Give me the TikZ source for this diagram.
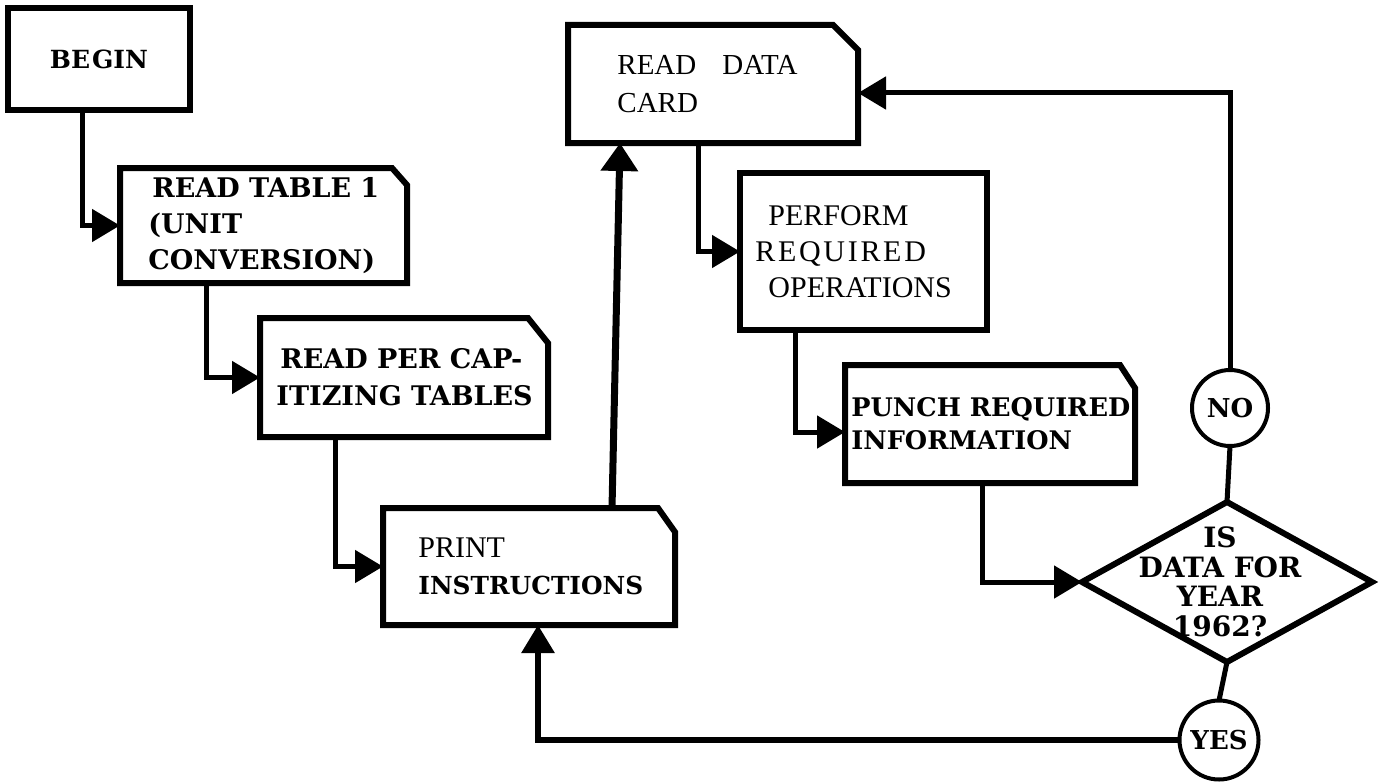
\documentclass[tikz,border=0pt]{standalone}
\usepackage{fontspec}
\newfontfamily\tnr{Liberation Serif}
\newfontfamily\tnrwide{Liberation Serif}[LetterSpace=9]
\newfontfamily\bff{DejaVu Serif}
\usetikzlibrary{arrows.meta,shapes.geometric}
\newcommand\chambox[3]{\draw[outline] (#1.south west) -- (#1.north west) -- ([xshift=-#2]#1.north east) -- ([yshift=-#3]#1.north east) -- (#1.south east) -- cycle;}
\begin{document}
\begin{tikzpicture}[x=0.5pt,y=-0.5pt,
  boxnode/.style={draw=none,anchor=north west,inner sep=0pt,outer sep=0pt},
  outline/.style={line width=3pt,line join=miter},
  conn/.style={line width=2.5pt,-{Triangle[length=14pt,width=16pt]}},
  link/.style={line width=2.5pt},
  bftext/.style={font=\fontsize{13.5}{18}\selectfont\bff\bfseries,align=left,anchor=west,inner sep=0pt},
  rmtext/.style={font=\fontsize{14.5}{19}\selectfont\tnr,align=left,anchor=west,inner sep=0pt},
  term/.style={circle,draw,line width=2pt,inner sep=0pt,outer sep=0pt,font=\fontsize{13}{15}\selectfont\bff\bfseries},
]
\useasboundingbox (0,0) rectangle (1380,781);

% boxes
\node[boxnode,draw,line width=3pt,minimum width=91pt,minimum height=51pt] (begin) at (8,8) {};
\node[boxnode,minimum width=143.5pt,minimum height=57.5pt] (rt) at (120,168) {};
\node[boxnode,minimum width=144pt,minimum height=59.5pt] (rp) at (260,318) {};
\node[boxnode,minimum width=146pt,minimum height=58.5pt] (pr) at (383,508) {};
\node[boxnode,minimum width=145pt,minimum height=59pt] (rd) at (568,25) {};
\node[boxnode,draw,line width=3pt,minimum width=123.5pt,minimum height=78.5pt] (pf) at (740,173) {};
\node[boxnode,minimum width=145pt,minimum height=59pt] (pu) at (845,365) {};
\chambox{rt}{7.5pt}{8.5pt}
\chambox{rp}{10pt}{12.5pt}
\chambox{pr}{8.5pt}{12pt}
\chambox{rd}{12.5pt}{12.5pt}
\chambox{pu}{7.5pt}{11.5pt}

\node[diamond,draw,line width=3pt,minimum width=145pt,minimum height=80pt,inner sep=0pt,outer sep=0pt] (dia) at (1227,582) {};
\node[term,minimum size=38pt] (no) at (1230,408) {NO};
\node[term,minimum size=39.5pt] (yes) at (1219,740) {YES};

% texts
\node[bftext,anchor=center,font=\fontsize{12.5}{15}\selectfont\bff\bfseries] (tbegin) at (begin.center) {BE\kern1pt GIN};
\node[bftext] (trt) at ([xshift=14pt]rt.west) {\hspace*{2pt}READ TABLE 1\\(UNIT\\CONVERSION)};
\node[bftext,font=\fontsize{13.5}{18.5}\selectfont\bff\bfseries] (trp) at ([xshift=8pt]rp.west) {\hspace*{2pt}READ PER CAP-\\ITIZING TABLES};
\node[align=left,anchor=west,inner sep=0pt,font=\fontsize{12}{18.5}\selectfont] (tpr) at ([xshift=17.5pt]pr.west) {{\fontsize{15}{18.5}\selectfont\tnr PRINT}\\{\fontsize{12.4}{18.5}\selectfont\bff\bfseries INSTRUCTIONS}};
\node[rmtext] (trd) at ([xshift=24.5pt]rd.west) {READ\hspace{0.9em}DATA\\CARD};
\node[align=left,anchor=west,inner sep=0pt,font=\fontsize{15}{18}\selectfont\tnr] (tpf) at ([xshift=7.5pt]pf.west) {\hspace*{6.5pt}PERFORM\\{\tnrwide REQUIRED}\\\hspace*{6.5pt}OPERATIONS};
\node[bftext,font=\fontsize{12.8}{16.5}\selectfont\bff\bfseries] (tpu) at ([xshift=3pt]pu.west) {PUNCH REQUIRED\\INFORMATION};
\node[font=\fontsize{14}{14.8}\selectfont\bff\bfseries,align=center,inner sep=0pt] (tdia) at ([xshift=-3.5pt]dia.center) {IS\\DATA FOR\\YEAR\\1962?};

% connectors
\draw[conn] ([xshift=37pt]begin.south west) |- (rt.west);
\draw[conn] ([xshift=43pt]rt.south west) |- (rp.west);
\draw[conn] ([xshift=37.5pt]rp.south west) |- (pr.west);
\draw[line width=3.5pt,-{Triangle[length=14pt,width=18pt]}] ([xshift=114.5pt]pr.north west) -- ([xshift=26pt]rd.south west);
\draw[conn] ([xshift=65pt]rd.south west) |- (pf.west);
\draw[conn] ([xshift=27.5pt]pf.south west) |- ([yshift=-4pt]pu.west);
\draw[conn] ([xshift=68.5pt]pu.south west) |- (dia.west);
\draw[link] (dia.north) -- (no.south);
\draw[conn] (no.north) |- ([yshift=-4.5pt]rd.east);
\draw[link] (dia.south) -- (yes.north);
\draw[conn,line width=3pt] (yes.west) -| ([xshift=77.5pt]pr.south west);
\end{tikzpicture}
\end{document}
